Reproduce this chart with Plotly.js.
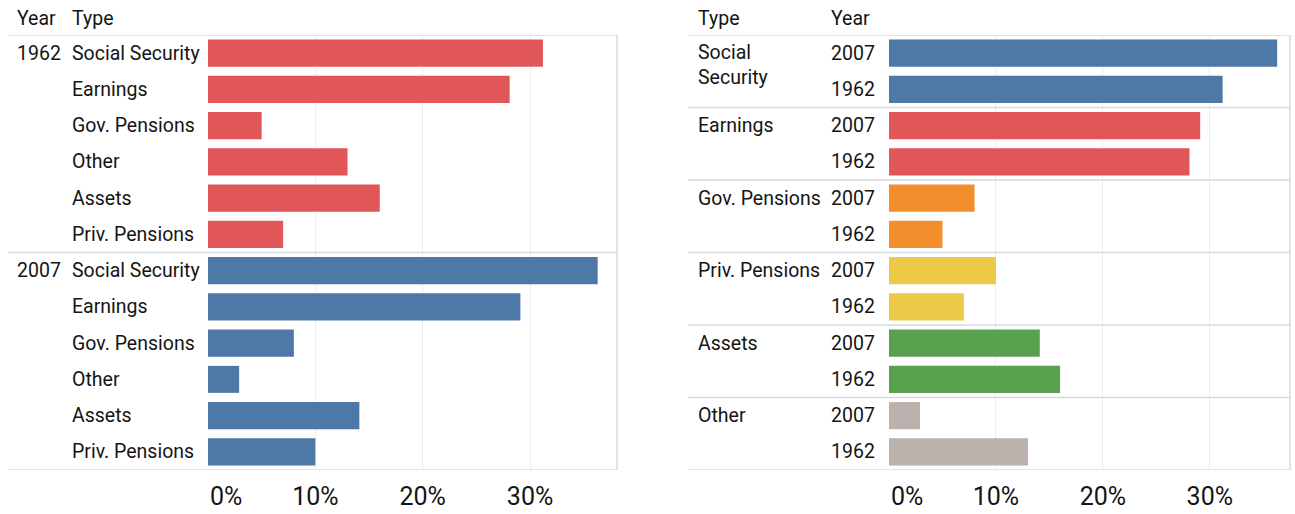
<!DOCTYPE html>
<html>
<head>
<meta charset="utf-8">
<script src="https://cdn.plot.ly/plotly-3.0.1.min.js"></script>
<style>html,body{margin:0;padding:0;background:#fff;}#chart{width:1295px;height:514px;}</style>
</head>
<body>
<div id="chart"></div>
<script>
// ---- data ----
const years = ["1962", "2007"];
const types = ["Social Security", "Earnings", "Gov. Pensions", "Other", "Assets", "Priv. Pensions"];
const share1962 = [31.2, 28.1, 5.0, 13.0, 16.0, 7.0];
const share2007 = [36.3, 29.1, 8.0, 2.9, 14.1, 10.0];
const rightTypes = ["Social Security", "Earnings", "Gov. Pensions", "Priv. Pensions", "Assets", "Other"];
const rightTypeLabels = ["Social<br>Security", "Earnings", "Gov. Pensions", "Priv. Pensions", "Assets", "Other"];
const rightYears = ["2007", "1962"];
const tickVals = [0, 10, 20, 30];
const tickText = ["", "10%", "20%", "30%"];
const zeroLabel = "0%";

// ---- styles ----
const FONT = "Roboto, 'Liberation Sans', sans-serif";
const TXT = "#151515";
const yearColors = {"1962": "#E15759", "2007": "#4E79A7"};
const typeColors = {
  "Social Security": "#4E79A7", "Earnings": "#E15759", "Gov. Pensions": "#F28E2B",
  "Priv. Pensions": "#EDC948", "Assets": "#59A14F", "Other": "#BAB0AC"
};
const W = 1295, H = 514;
const dom1 = [208 / W, 617 / W];
const dom2 = [889 / W, 1290 / W];
const ydom = [(H - 470) / H, (H - 35) / H];
const lineCol = "#d3dbe1";
const gridCol = "#e9eef2";

const valueOf = (year, type) => {
  const i = types.indexOf(type);
  return year === "1962" ? share1962[i] : share2007[i];
};

// ---- left panel: Year then Type ----
const leftCats = [];
years.forEach(y => types.forEach(t => leftCats.push(y + "|" + t)));
const traces = [];
years.forEach(y => {
  traces.push({
    type: "bar", orientation: "h", xaxis: "x", yaxis: "y",
    y: types.map(t => y + "|" + t),
    x: types.map(t => valueOf(y, t)),
    marker: {color: yearColors[y]},
    hoverinfo: "x+y", showlegend: false
  });
});

// ---- right panel: Type then Year ----
const rightCats = [];
rightTypes.forEach(t => rightYears.forEach(y => rightCats.push(t + "|" + y)));
rightTypes.forEach(t => {
  traces.push({
    type: "bar", orientation: "h", xaxis: "x2", yaxis: "y2",
    y: rightYears.map(y => t + "|" + y),
    x: rightYears.map(y => valueOf(y, t)),
    marker: {color: typeColors[t]},
    hoverinfo: "x+y", showlegend: false
  });
});

const annotations = [];
const labFont = {family: FONT, size: 19.5, color: TXT};
const hdrY = (H - 19) / H;
// headers
annotations.push({xref: "paper", yref: "paper", x: 15 / W, y: hdrY, xanchor: "left", yanchor: "middle", text: "Year", showarrow: false, font: labFont});
annotations.push({xref: "paper", yref: "paper", x: 70 / W, y: hdrY, xanchor: "left", yanchor: "middle", text: "Type", showarrow: false, font: labFont});
annotations.push({xref: "paper", yref: "paper", x: 696 / W, y: hdrY, xanchor: "left", yanchor: "middle", text: "Type", showarrow: false, font: labFont});
annotations.push({xref: "paper", yref: "paper", x: 829 / W, y: hdrY, xanchor: "left", yanchor: "middle", text: "Year", showarrow: false, font: labFont});
// left row labels
years.forEach(y => {
  annotations.push({xref: "paper", yref: "y", x: 15 / W, y: y + "|" + types[0], xanchor: "left", yanchor: "middle", text: y, showarrow: false, font: labFont});
  types.forEach(t => {
    annotations.push({xref: "paper", yref: "y", x: 70 / W, y: y + "|" + t, xanchor: "left", yanchor: "middle", text: t, showarrow: false, font: labFont});
  });
});
// right row labels
rightTypes.forEach((t, i) => {
  const multi = rightTypeLabels[i].indexOf("<br>") >= 0;
  annotations.push({xref: "paper", yref: "y2", x: 696 / W, y: t + "|" + rightYears[0], xanchor: "left", yanchor: multi ? "top" : "middle", yshift: multi ? 14 : 0, text: rightTypeLabels[i], showarrow: false, align: "left", font: Object.assign({}, labFont, {lineposition: "none"})});
  rightYears.forEach(y => {
    annotations.push({xref: "paper", yref: "y2", x: 829 / W, y: t + "|" + y, xanchor: "left", yanchor: "middle", text: y, showarrow: false, font: labFont});
  });
});
// 0% labels (left-aligned at the zero gridline, as in the original)
const tickFont = {family: FONT, size: 25, color: TXT};
["x", "x2"].forEach(ax => {
  annotations.push({xref: ax, yref: "paper", x: 0, y: ydom[0], yshift: -10, xanchor: "left", yanchor: "top", text: zeroLabel, showarrow: false, font: tickFont});
});

// ---- frame lines ----
const shapes = [];
const hline = (yref, yv, x0, x1) => shapes.push({type: "line", xref: "paper", yref: yref, x0: x0, x1: x1, y0: yv, y1: yv, line: {color: lineCol, width: 1.5}});
const vline = (yref, xv, n) => shapes.push({type: "line", xref: "paper", yref: yref, x0: xv, x1: xv, y0: -0.5, y1: n - 0.5, line: {color: lineCol, width: 1.5}});
hline("y", -0.5, 8 / W, dom1[1]);
hline("y", leftCats.length - 0.5, 8 / W, dom1[1]);
hline("y", types.length - 0.5, 8 / W, dom1[1]);
vline("y", dom1[1], leftCats.length);
hline("y2", -0.5, 688 / W, dom2[1]);
hline("y2", rightCats.length - 0.5, 688 / W, dom2[1]);
for (let i = 1; i < rightTypes.length; i++) hline("y2", i * rightYears.length - 0.5, 688 / W, dom2[1]);
vline("y2", dom2[1], rightCats.length);

const xaxisBase = {
  tickvals: tickVals, ticktext: tickText, tickfont: tickFont,
  showgrid: true, gridcolor: gridCol, gridwidth: 1, zeroline: false, showline: false,
  ticks: "", ticklabelstandoff: 9, fixedrange: true
};
const yaxisBase = {
  type: "category", showticklabels: false, showgrid: false,
  zeroline: false, showline: false, ticks: "", domain: ydom, fixedrange: true
};

const layout = {
  width: W, height: H,
  margin: {l: 0, r: 0, t: 0, b: 0},
  paper_bgcolor: "#fff", plot_bgcolor: "#fff",
  barmode: "overlay", bargap: 0.255,
  font: {family: FONT, color: TXT},
  showlegend: false,
  xaxis: Object.assign({}, xaxisBase, {domain: dom1, range: [0, 38.1], anchor: "y"}),
  yaxis: Object.assign({}, yaxisBase, {categoryorder: "array", categoryarray: leftCats, anchor: "x", autorange: false, range: [leftCats.length - 0.5, -0.5]}),
  xaxis2: Object.assign({}, xaxisBase, {domain: dom2, range: [0, 37.5], anchor: "y2"}),
  yaxis2: Object.assign({}, yaxisBase, {categoryorder: "array", categoryarray: rightCats, anchor: "x2", autorange: false, range: [rightCats.length - 0.5, -0.5]}),
  annotations: annotations,
  shapes: shapes
};

Plotly.newPlot("chart", traces, layout, {displayModeBar: false, staticPlot: true});
</script>
</body>
</html>
